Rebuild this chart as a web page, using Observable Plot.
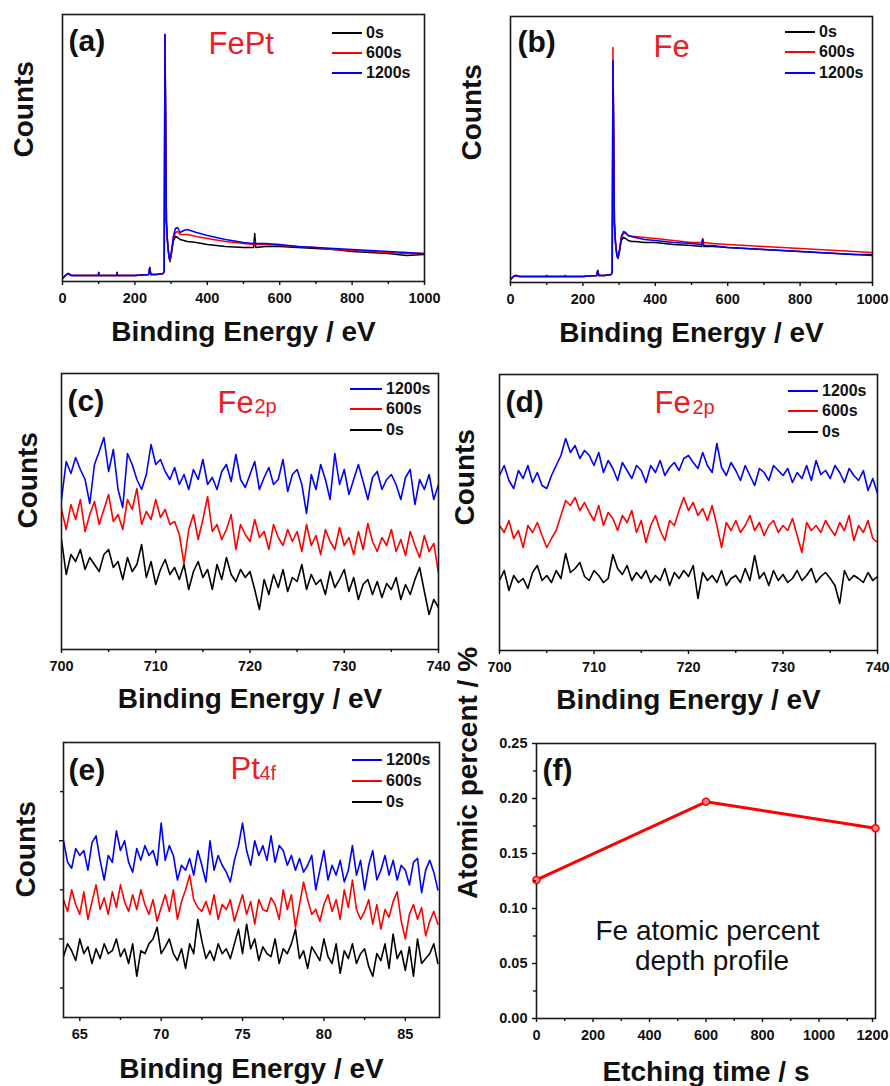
<!DOCTYPE html>
<html><head><meta charset="utf-8">
<script src="https://cdn.jsdelivr.net/npm/d3@7"></script>
<script src="https://cdn.jsdelivr.net/npm/@observablehq/plot@0.6"></script>
<style>
body{margin:0;background:#fff;}
#fig{position:relative;width:890px;height:1086px;overflow:hidden;background:#fff;font-family:"Liberation Sans",Arial,Helvetica,sans-serif;}
#fig svg{position:absolute;overflow:visible;}
#fig svg g[aria-label$="tick label"]{font-weight:bold;font-size:14.5px;}
.leg{position:absolute;display:flex;align-items:center;font-weight:bold;font-size:16px;line-height:16px;height:16px;color:#111;white-space:nowrap;}
.leg .sw{display:inline-block;height:2px;margin-right:4px;}
</style></head><body><div id="fig"></div>
<script>
// ---------- DATA ----------
// survey spectra (a) FePt and (b) Fe: binding energy (eV) and counts (arb.)
const surveyEnergy = [0,8,15,25,60,99,100,101,150,151,152,200,238,241,244,260,278,281,283,285,287,290,294,297,301,306,312,318,325,335,345,370,400,450,500,528,531,534,560,600,650,700,750,800,850,900,950,1000];
const aBlack = [3,6,8,6,6,6,9,6,6,9,6,6,7,14,7,7,8,10,247,160,60,40,24,20,28,40,45,44,42,41,40,39,37,35,34,34,48,34,35,35,34,33,32,30,29,28,26,27];
const aRed   = [3,6,8,6,6,6,9,6,6,9,6,6,7,14,7,7,8,10,247,160,60,40,25,21,29,42,49,50,47,47,47,45,43,40,38,37,40,37,37,36,35,34,32,31,30,29,28,28];
const aBlue  = [3,6,8,6,6,6,9,6,6,9,6,6,7,14,7,7,8,10,247,160,60,40,25,22,30,45,53,54,49,51,52,49,46,42,39,38,39,38,38,37,35,34,33,32,31,30,29,28];
const bBlack = [3,6,7,6,6,6,7,6,6,7,6,6,7,12,7,7,8,10,220,150,60,40,27,25,31,42,45,44,42,41,41,40,40,38,37,36,42,36,36,35,34,33,32,31,30,29,28,28];
const bRed   = [3,6,7,6,6,6,7,6,6,7,6,6,7,12,7,7,8,10,235,150,60,40,27,25,32,44,49,49,47,46,46,45,44,42,40,40,44,40,39,38,37,36,35,34,33,32,31,30];
const bBlue  = [3,6,7,6,6,6,7,6,6,7,6,6,7,12,7,7,8,10,222,150,60,40,26,24,32,46,51,50,47,46,45,43,42,40,39,38,43,37,37,35,34,33,32,31,30,29,28,27];

// Fe2p spectra (c) and (d): 700–740 eV in 0.5 eV steps
const fe2pStart = 700, fe2pStep = 0.5;
const cBlue = [150,188,176,192,180,170,146,185,198,212, 178,200,160,142,196,185,170,160,175,205, 185,190,178,170,182,165,175,160,180,170, 190,165,172,160,178,185,168,195,170,162, 175,188,160,172,182,165,170,190,158,175, 180,165,136,175,160,185,170,150,196,165, 180,155,170,185,168,150,172,178,160,170, 175,165,150,172,180,145,170,160,175,150, 165];
const cRed = [140,120,145,130,150,118,135,148,125,140, 155,128,135,120,150,140,161,125,138,130, 150,132,140,125,128,115,86,120,135,110, 130,153,118,125,110,120,135,100,125,115, 108,130,112,118,100,125,112,104,120,108, 118,98,125,104,114,95,120,108,100,122, 104,112,95,118,100,126,108,98,112,104, 120,98,110,94,118,104,92,114,98,106, 76];
const cBlack = [110,75,95,88,100,80,92,85,78,95, 100,82,88,70,92,78,85,105,72,88, 65,80,90,75,82,70,85,60,78,88, 72,80,60,85,70,92,75,68,80,72, 78,60,40,70,55,75,62,80,58,72, 68,85,60,75,65,70,55,78,62,70, 80,58,72,50,65,70,55,68,52,66, 60,72,50,65,55,70,82,58,35,50, 42];
const dBlue = [175,185,170,162,180,172,185,168,178,165, 162,175,185,195,212,198,205,192,200,195, 185,198,178,190,182,170,188,180,172,185, 180,168,185,178,190,175,183,188,180,192, 195,188,182,198,185,178,207,183,175,188, 180,170,185,175,165,182,178,170,185,180, 175,182,168,178,172,185,170,190,176,180, 172,185,178,168,182,175,170,180,160,172, 157];
const dRed = [125,118,130,112,120,103,125,118,128,115, 103,112,120,135,150,145,153,140,148,138, 130,145,125,138,132,120,135,128,140,118, 130,108,125,135,120,110,130,125,140,153, 140,148,135,142,130,145,125,103,128,120, 130,118,125,135,120,128,115,125,130,118, 125,120,132,115,98,128,120,125,118,130, 122,115,128,120,135,110,125,118,130,112, 108];
const dBlack = [70,80,60,75,68,72,62,78,85,70, 75,68,80,72,97,78,82,88,74,70, 80,75,68,72,96,82,76,85,70,78, 72,80,68,75,70,82,65,78,72,80, 74,85,52,78,70,75,68,80,65,72, 75,68,82,70,95,72,78,65,80,70, 76,68,72,80,70,75,82,68,74,78, 72,65,47,80,70,75,72,68,78,70, 74];

// Pt4f spectra (e): 64–87 eV in 0.25 eV steps
const pt4fStart = 64, pt4fStep = 0.25;
const eBlue = [200,178,172,192,185,190,170,198,205,180, 160,185,178,210,190,200,178,168,192,180, 195,185,190,175,218,180,195,185,160,175, 170,182,165,190,175,158,200,170,185,175, 168,158,180,195,218,190,175,200,185,195, 180,205,178,195,190,175,185,170,182,168, 175,185,150,170,190,160,175,165,180,158, 170,195,165,180,150,175,190,160,170,185, 165,180,160,175,170,155,178,182,147,170, 180,168,150];
const eRed = [140,128,150,135,125,148,120,138,155,130, 142,125,148,132,155,138,128,145,130,150, 135,125,140,118,132,145,128,150,120,138, 150,165,140,132,128,138,125,145,120,135, 130,140,118,132,145,125,138,115,140,130, 128,142,135,120,150,130,145,112,135,158, 140,125,130,118,135,145,128,140,120,150, 132,160,130,120,128,140,115,135,110,130, 122,138,148,118,100,125,135,120,132,103, 118,128,115];
const eBlack = [82,95,88,78,100,85,92,75,90,80, 95,85,88,100,82,90,75,95,62,88, 85,95,100,112,85,92,100,85,78,90, 70,95,85,120,98,80,88,78,95,85, 90,80,95,110,85,115,90,100,78,92, 85,82,100,75,90,85,95,110,80,88, 70,92,85,78,100,82,75,95,65,88, 80,95,75,85,90,72,62,85,78,95, 70,105,80,88,68,92,62,100,75,80, 85,95,75];

// (f) Fe atomic percent depth profile
const etchTime = [0, 600, 1200];
const feAtomic = [0.126, 0.197, 0.173];

// series names / colours
const seriesNames = ["0s", "600s", "1200s"];
const seriesColors = ["#000000", "#ff0000", "#0000ff"];

// ---------- HELPERS ----------
const FONT = '"Liberation Sans", Arial, Helvetica, sans-serif';
const RED_TXT = "#ec1c24";
const fig = document.getElementById("fig");
const pts = (xs, ys) => ys.map((y, i) => ({x: xs[i], y}));
const grid = (start, step, n) => d3.range(n).map(i => +(start + i * step).toFixed(3));
const txt = (s, o) => Plot.text([s], {text: d => d, fontFamily: FONT, lineAnchor: "middle", ...o});
const spec = (data, color, w = 1.6) => Plot.line(data, {x: "x", y: "y", stroke: color, strokeWidth: w, clip: true});
const tickText = {tickSize: 4, strokeWidth: 1.4, tickPadding: 7, fontSize: 14.5, fontWeight: "bold", fontFamily: FONT, label: null};
function xAxes(major, minor, fmt) {
  return [
    Plot.axisX(minor, {tickSize: 3, strokeWidth: 1.4, fill: "none", label: null}),
    Plot.axisX(major, {...tickText, tickFormat: fmt || (d => String(d))})
  ];
}
function panel({left, top, width = 445, height = 360, m, x, y, marks}) {
  const svg = Plot.plot({
    width, height,
    marginTop: m[0], marginRight: m[1], marginBottom: m[2], marginLeft: m[3],
    x: {domain: x}, y,
    style: {background: "none", overflow: "visible", color: "#111", fontFamily: FONT},
    marks
  });
  svg.style.position = "absolute";
  svg.style.left = left + "px";
  svg.style.top = top + "px";
  fig.appendChild(svg);
}
function legend(x, ys, order, swW = 30) {
  order.forEach((k, i) => {
    const d = document.createElement("div");
    d.className = "leg";
    d.style.left = x + "px";
    d.style.top = (ys[i] - 8) + "px";
    d.innerHTML = `<span class="sw" style="width:${swW}px;background:${seriesColors[k]}"></span>${seriesNames[k]}`;
    fig.appendChild(d);
  });
}
const frame = () => Plot.frame({stroke: "#1a1a1a", strokeWidth: 1.6});
const xLab = (s, dy) => txt(s, {frameAnchor: "bottom", dy, fontSize: 28, fontWeight: "bold"});
const yLab = (s, dx, dy) => txt(s, {frameAnchor: "left", rotate: -90, dx, dy, fontSize: 28, fontWeight: "bold"});
const pLab = (s, dx, dy) => txt(s, {frameAnchor: "top-left", textAnchor: "start", dx, dy, fontSize: 30, fontWeight: "bold"});
const title = (s, dx, dy, size = 31) => txt(s, {frameAnchor: "top-left", textAnchor: "start", dx, dy, fontSize: size, fill: RED_TXT});

// ---------- PANELS ----------
const surveyMajor = [0, 200, 400, 600, 800, 1000], surveyMinor = [100, 300, 500, 700, 900];
// (a)
panel({left: 0, top: 0, m: [14, 21, 79, 62], x: [0, 1000], y: {domain: [0, 267], axis: null}, marks: [
  spec(pts(surveyEnergy, aBlack), seriesColors[0], 1.5),
  spec(pts(surveyEnergy, aRed), seriesColors[1], 1.5),
  spec(pts(surveyEnergy, aBlue), seriesColors[2], 1.5),
  frame(), ...xAxes(surveyMajor, surveyMinor),
  xLab("Binding Energy / eV", 51), yLab("Counts", -38, 9.5),
  pLab("(a)", 6, 27), title("FePt", 146, 30)
]});
// (b)
panel({left: 445, top: 0, m: [16, 18, 78, 65], x: [0, 1000], y: {domain: [0, 266], axis: null}, marks: [
  spec(pts(surveyEnergy, bBlack), seriesColors[0], 1.5),
  spec(pts(surveyEnergy, bRed), seriesColors[1], 1.5),
  spec(pts(surveyEnergy, bBlue), seriesColors[2], 1.5),
  frame(), ...xAxes(surveyMajor, surveyMinor),
  xLab("Binding Energy / eV", 51), yLab("Counts", -38, 11),
  pLab("(b)", 7, 26), title("Fe", 143, 31)
]});
const feX = grid(fe2pStart, fe2pStep, 81);
const feMajor = [700, 710, 720, 730, 740], feMinor = [705, 715, 725, 735];
// (c)
panel({left: 0, top: 360, m: [13, 7, 71, 61], x: [700, 740], y: {domain: [0, 276], axis: null}, marks: [
  spec(pts(feX, cBlack), seriesColors[0]),
  spec(pts(feX, cRed), seriesColors[1]),
  spec(pts(feX, cBlue), seriesColors[2]),
  frame(), ...xAxes(feMajor, feMinor),
  xLab("Binding Energy / eV", 50), yLab("Counts", -33, 17),
  pLab("(c)", 6, 28), title("Fe", 156, 29.5), title("2p", 193, 33, 20)
]});
// (d)
panel({left: 445, top: 360, m: [14, 13, 70, 54], x: [700, 740], y: {domain: [0, 276], axis: null}, marks: [
  spec(pts(feX, dBlack), seriesColors[0]),
  spec(pts(feX, dRed), seriesColors[1]),
  spec(pts(feX, dBlue), seriesColors[2]),
  frame(), ...xAxes(feMajor, feMinor),
  xLab("Binding Energy / eV", 50), yLab("Counts", -34, 13),
  pLab("(d)", 6, 28), title("Fe", 155, 29), title("2p", 193, 32.7, 20)
]});
const ptX = grid(pt4fStart, pt4fStep, 93);
// (e)
panel({left: 0, top: 720, height: 366, m: [22, 6, 69, 63], x: [64, 87.1], y: {domain: [20, 300]}, marks: [
  spec(pts(ptX, eBlack), seriesColors[0]),
  spec(pts(ptX, eRed), seriesColors[1]),
  spec(pts(ptX, eBlue), seriesColors[2]),
  frame(), ...xAxes([65, 70, 75, 80, 85], [67.5, 72.5, 77.5, 82.5]),
  Plot.axisY([50, 150, 250], {tickSize: 3, strokeWidth: 1.4, fill: "none", label: null}),
  Plot.axisY([100, 200], {tickSize: 4, strokeWidth: 1.4, fill: "none", label: null}),
  xLab("Binding Energy / eV", 52), yLab("Counts", -37, 17.5),
  pLab("(e)", 5, 28), title("Pt", 167, 27), title("4f", 196, 31, 20)
]});
// (f)
const fData = pts(etchTime, feAtomic);
panel({left: 445, top: 720, height: 366, m: [23, 15, 68, 91], x: [0, 1200], y: {domain: [0, 0.25]}, marks: [
  frame(),
  Plot.line(fData, {x: "x", y: "y", stroke: "#ff0000", strokeWidth: 3}),
  Plot.dot(fData, {x: "x", y: "y", r: 3.5, stroke: "#ff0000", strokeWidth: 1.5, fill: "#ff8080"}),
  Plot.axisX([100, 300, 500, 700, 900, 1100], {tickSize: 3, strokeWidth: 1.4, fill: "none", label: null}),
  Plot.axisX([0, 200, 400, 600, 800, 1000], {...tickText, tickFormat: d => String(d)}),
  Plot.axisX([1200], {...tickText, tickFormat: d => String(d), dx: -3}),
  Plot.axisY([0.025, 0.075, 0.125, 0.175, 0.225], {tickSize: 3, strokeWidth: 1.4, fill: "none", label: null}),
  Plot.axisY([0, 0.05, 0.1, 0.15, 0.2, 0.25], {...tickText, tickPadding: 5, tickFormat: d3.format(".2f")}),
  xLab("Etching time / s", 54), yLab("Atomic percent / %", -68, 18),
  pLab("(f)", 6, 27),
  txt("Fe atomic percent", {frameAnchor: "middle", dx: 1.5, dy: 50, fontSize: 28}),
  txt("depth profile", {frameAnchor: "middle", dx: 6, dy: 80, fontSize: 28})
]});

// ---------- LEGENDS ----------
legend(332, [33, 53, 73], [0, 1, 2]);
legend(785, [32, 52, 73], [0, 1, 2]);
legend(350, [389, 409, 430], [2, 1, 0], 32);
legend(788, [391, 411, 432], [2, 1, 0]);
legend(352, [760, 781, 802], [2, 1, 0]);
</script></body></html>
